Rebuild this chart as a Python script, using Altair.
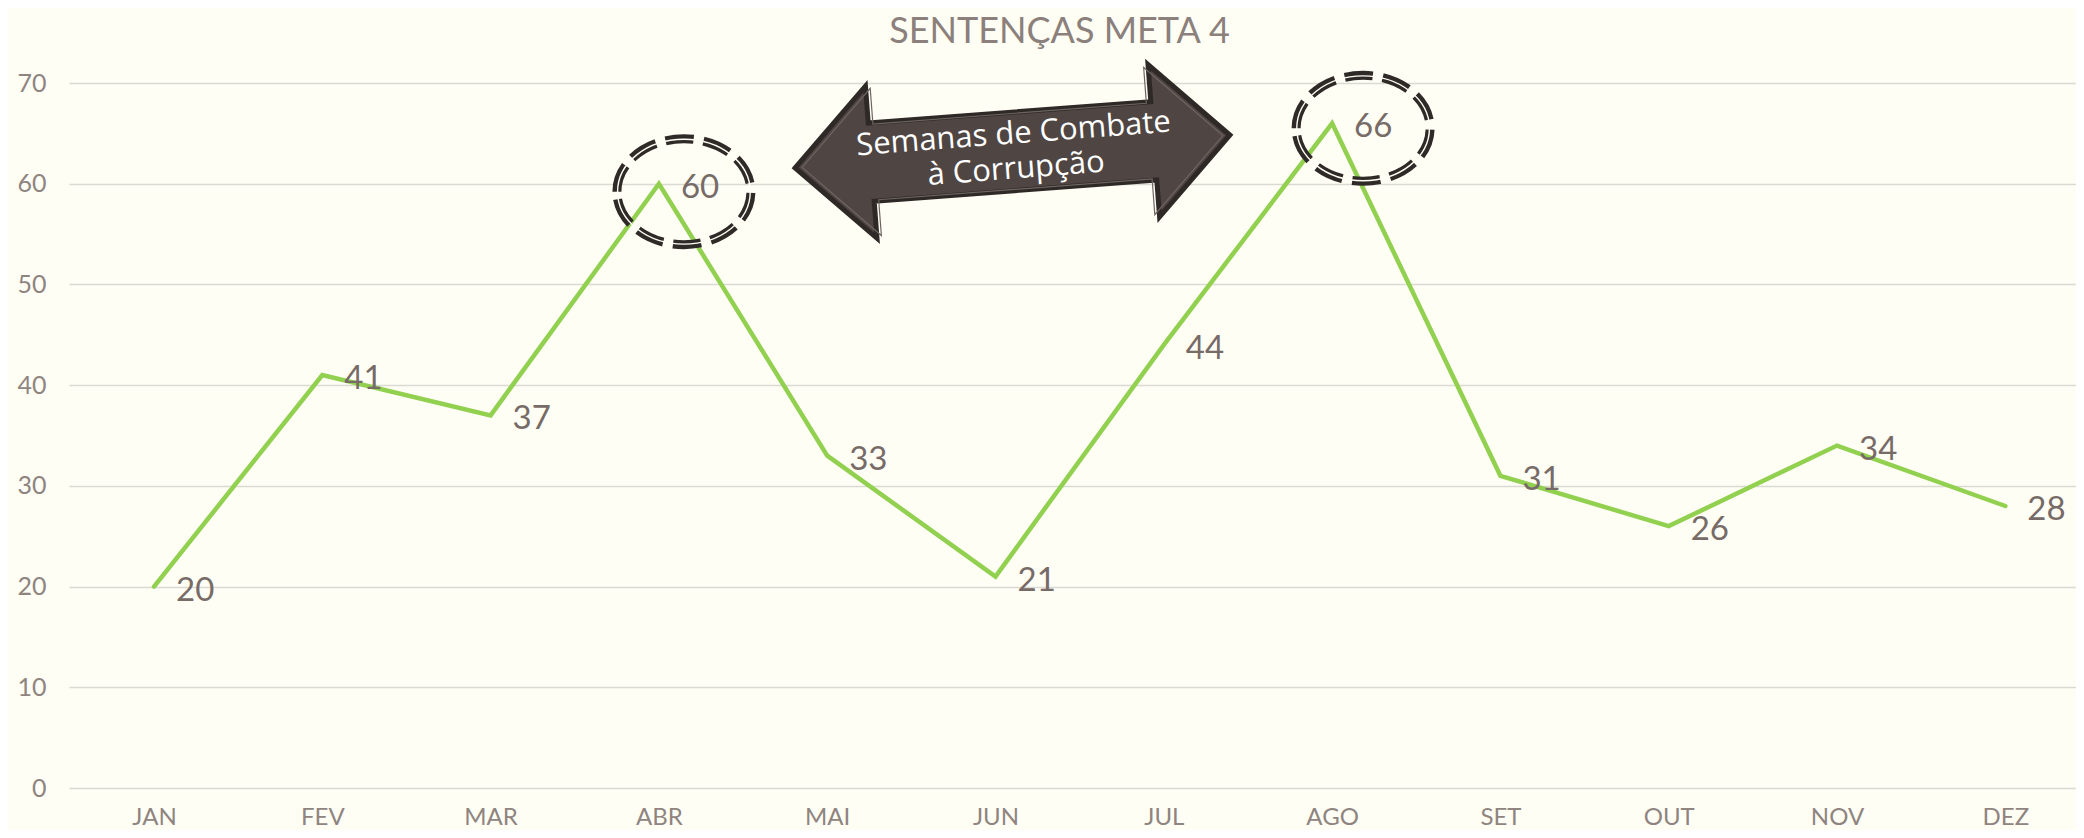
import altair as alt
import pandas as pd

# ---- data ----
months = ["JAN", "FEV", "MAR", "ABR", "MAI", "JUN", "JUL", "AGO", "SET", "OUT", "NOV", "DEZ"]
values = [20, 41, 37, 60, 33, 21, 44, 66, 31, 26, 34, 28]
y_ticks = [0, 10, 20, 30, 40, 50, 60, 70]
title_text = "SENTENÇAS META 4"

# highlighted peaks (dashed ellipses)
highlight_months = ["ABR", "AGO"]
highlight_dx = [25, 31]
highlight_dy = [8, 5]

# arrow annotation
arrow_text = ["Semanas de Combate", "à Corrupção"]
arrow_month = ["JUN"]
arrow_value = [63.2]

# ---- styles ----
BG = "#FEFEF4"
GREEN = "#92D050"
LABEL_C = "#776B67"
AXIS_C = "#8F847F"
TITLE_C = "#8B807B"
GRID_C = "#DADAD4"

df = pd.DataFrame({"mes": months, "valor": values})
arrow_df = pd.DataFrame({"mes": arrow_month, "valor": arrow_value})

x_enc = alt.X(
    "mes:N",
    sort=months,
    scale=alt.Scale(type="point", padding=0.4626, align=0.546),
    axis=alt.Axis(
        title=None, labelAngle=0, ticks=False, domain=False, grid=False,
        labelFontSize=24, labelColor=AXIS_C, labelFont="Lato",
        labelBaseline="alphabetic", labelPadding=36,
    ),
)
y_enc = alt.Y(
    "valor:Q",
    scale=alt.Scale(domain=[0, 70], nice=False),
    axis=alt.Axis(
        title=None, values=y_ticks, ticks=False, domain=False, grid=True,
        gridColor=GRID_C, gridWidth=1.4, labelFontSize=25, labelColor=AXIS_C,
        labelFont="Lato", labelPadding=23,
    ),
)

base = alt.Chart(df).encode(x=x_enc, y=y_enc)

line = base.mark_line(color=GREEN, strokeWidth=4.5, strokeCap="round", strokeJoin="miter")

ellipse_path = "M -1 0 A 1 0.79 0 1 1 1 0 A 1 0.79 0 1 1 -1 0 Z"
ellipse_layers = []
for m, dx, dy in zip(highlight_months, highlight_dx, highlight_dy):
    sub = alt.Chart(df[df["mes"] == m]).encode(x=x_enc, y=y_enc)
    ellipse_layers.append(
        sub.mark_point(
            shape=ellipse_path, size=17956, filled=False, stroke="#2F2A28",
            strokeWidth=9, strokeDash=[28, 10], opacity=1, xOffset=dx, yOffset=dy,
        )
    )
    ellipse_layers.append(
        sub.mark_point(
            shape=ellipse_path, size=17600, filled=False, stroke=BG,
            strokeWidth=1.4, opacity=1, xOffset=dx, yOffset=dy,
        )
    )

arrow_path = ("M -1 0 L -0.65 -0.35 L -0.65 -0.18 L 0.65 -0.18 L 0.65 -0.35 L 1 0 "
              "L 0.65 0.35 L 0.65 0.18 L -0.65 0.18 L -0.65 0.35 Z")
arrow_base = alt.Chart(arrow_df).encode(x=x_enc, y=y_enc)
arrow = arrow_base.mark_point(
    shape=arrow_path, size=190096, filled=True, fill="#4F4643", stroke="#2E2927",
    strokeWidth=5, opacity=1, fillOpacity=1, angle=355.66, xOffset=17,
)
arrow_inner = arrow_base.mark_point(
    shape=arrow_path, size=178000, filled=False, stroke="#6E6561",
    strokeWidth=1.2, opacity=1, angle=355.66, xOffset=17,
)
arrow_label = arrow_base.mark_text(
    text=arrow_text, angle=355.66, fontSize=31, font="Open Sans", color="#FFFFFF",
    align="center", baseline="middle", lineHeight=35, xOffset=18, yOffset=-17,
)

labels = base.mark_text(
    align="left", baseline="middle", dx=22, dy=4, fontSize=33, font="Lato", color=LABEL_C,
).encode(text="valor:Q")

chart = alt.layer(line, *ellipse_layers, arrow, arrow_inner, arrow_label, labels).properties(
    width=2007,
    height=705,
    title=alt.TitleParams(
        text=title_text, fontSize=36, font="Lato", fontWeight="normal", color=TITLE_C,
        anchor="middle", frame="group", offset=4, dx=-13,
    ),
    autosize=alt.AutoSizeParams(type="none"),
    padding={"left": 61, "top": 75, "right": 0, "bottom": 42},
    background=BG,
).configure_view(stroke=None)

chart.save("out.html", embed_options={"renderer": "svg", "actions": False})
